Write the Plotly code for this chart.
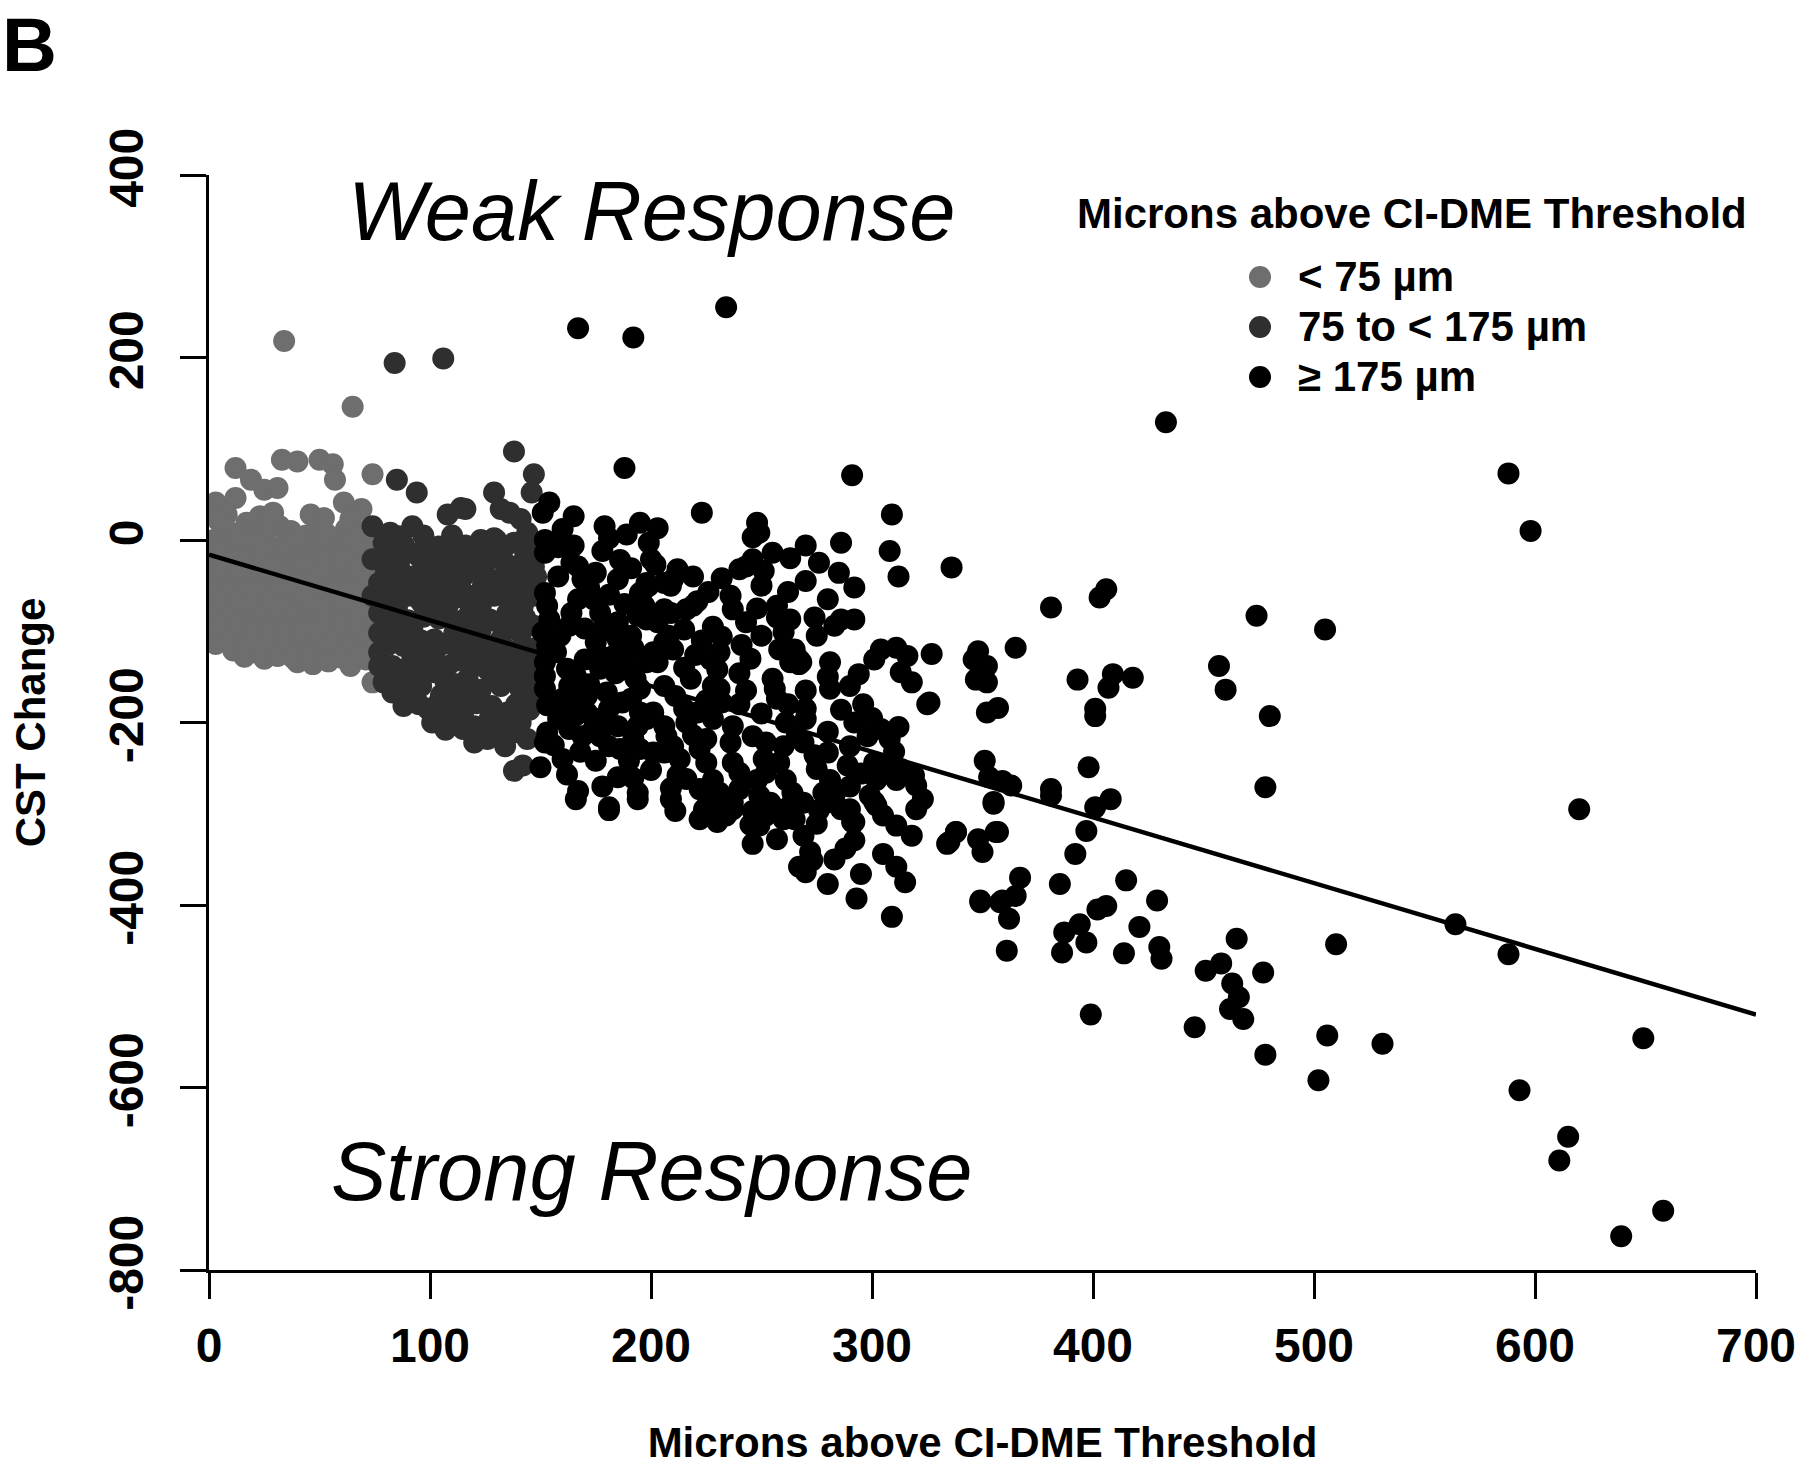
import plotly.graph_objects as go

# ---------------- data ----------------
# Microns above CI-DME threshold (x) vs CST change (y), three groups
gray_pts = [  # < 75 um
    (34, 218), (65, 146), (12, 79), (19, 66), (25, 55), (31, 57), (33, 88), (40, 86), (50, 88),
    (56, 83), (57, 66), (74, 72), (3, 41), (12, 46), (46, 28), (61, 41), (69, 34), (64, 23),
    (23, 26), (17, 19), (32, 15), (28, 19), (37, 10), (6, 15), (2, 0), (44, 5), (46, -5),
    (55, -14), (62, 12), (67, 5), (0, 30), (8, 28), (10, 8), (18, 5), (26, 10), (35, -1),
    (50, 14), (58, 2), (72, 12), (71, -14),
    (1, -8), (8, -5), (15, -10), (22, -4), (30, -9), (38, -6), (53, -3), (60, -9), (70, -6),
    (4, -22), (11, -25), (19, -20), (26, -24), (33, -21), (41, -26), (48, -19), (57, -23),
    (65, -27), (73, -20),
    (2, -36), (9, -38), (16, -33), (24, -39), (31, -35), (39, -37), (46, -32), (54, -40),
    (62, -34), (70, -38), (76, -42),
    (5, -50), (13, -53), (20, -48), (28, -52), (35, -49), (43, -55), (51, -47), (59, -51),
    (67, -54), (74, -49),
    (1, -64), (8, -61), (16, -66), (23, -62), (31, -67), (38, -60), (47, -65), (55, -63),
    (63, -68), (71, -62),
    (4, -78), (12, -75), (19, -80), (27, -77), (34, -82), (42, -76), (50, -79), (58, -74),
    (66, -81), (74, -77),
    (2, -93), (9, -90), (17, -95), (25, -91), (32, -96), (40, -89), (48, -94), (56, -92),
    (64, -97), (72, -90),
    (7, -107), (14, -104), (22, -109), (30, -105), (37, -110), (45, -103), (53, -108),
    (61, -106), (69, -111),
    (11, -121), (20, -123), (35, -120), (42, -125), (50, -119), (58, -124), (66, -118),
    (73, -122), (40, -134), (47, -136), (54, -133), (64, -138), (71, -131), (15, -116),
    (28, -118), (74, -156),
    (5, -15), (12, -13), (26, -16), (34, -14), (42, -12), (50, -17), (64, -15), (76, -12),
    (1, -29), (7, -31), (15, -27), (22, -30), (30, -28), (37, -32), (44, -26), (52, -30),
    (60, -29), (68, -31), (6, -43), (12, -45), (20, -42), (27, -44), (35, -41), (42, -46),
    (50, -40), (58, -44), (66, -42), (73, -45), (2, -57), (9, -56), (17, -58), (24, -55),
    (32, -59), (39, -54), (47, -57), (55, -56), (63, -58), (70, -55), (77, -58),
    (5, -71), (12, -69), (20, -72), (27, -70), (35, -73), (43, -68), (51, -72), (59, -70),
    (67, -73), (75, -69), (1, -86), (8, -84), (15, -87), (23, -85), (30, -88), (38, -83),
    (45, -87), (53, -85), (61, -88), (69, -84), (76, -86), (4, -100), (12, -98), (20, -101),
    (28, -99), (35, -102), (43, -97), (51, -101), (59, -99), (67, -102), (74, -98),
    (3, -114), (10, -112), (18, -115), (26, -113), (33, -116), (41, -111), (49, -114),
    (57, -112), (64, -115), (72, -111), (16, -128), (25, -130), (31, -127), (38, -129),
    (45, -126), (60, -129), (69, -127), (14, 3), (21, -1), (40, 2), (53, 7), (66, -2),
    (4, 22), (29, 30), (52, 24), (60, -20),
]

dark_pts = [  # 75 to < 175 um
    (84, 194), (106, 199), (138, 97), (147, 72), (146, 52), (129, 52), (85, 66), (94, 52),
    (114, 35), (108, 28), (136, 30), (141, 23), (74, 15), (82, 8), (92, 15), (97, 5),
    (110, 5), (123, 0), (130, 0), (127, -21), (133, -10), (144, 8), (147, -7), (110, -14),
    (116, 34), (132, 34), (129, 2),
    (74, -21), (82, -18), (86, -29), (92, -40), (90, -51), (77, -47), (74, -61), (97, -29),
    (102, -43), (108, -51), (115, -40), (118, -61), (127, -43), (132, -51), (138, -54),
    (144, -43), (147, -61), (142, -72), (135, -80), (129, -61), (123, -72), (118, -80),
    (108, -72), (102, -65), (92, -61), (85, -76), (77, -80),
    (91, -14), (102, -14), (118, -21), (138, -29), (147, -29), (108, -29),
    (77, -102), (85, -109), (92, -98), (102, -109), (111, -102), (123, -98), (132, -109),
    (141, -102), (147, -94), (77, -123), (83, -138), (92, -127), (102, -123), (108, -138),
    (115, -127), (123, -123), (130, -134), (138, -127), (145, -131), (148, -145),
    (83, -167), (92, -174), (99, -185), (108, -196), (115, -189), (120, -204), (127, -196),
    (135, -189), (141, -200), (144, -218), (138, -211), (130, -211), (123, -215), (115, -207),
    (111, -167), (123, -164), (132, -160), (141, -164), (147, -174),
    (80, -145), (86, -152), (102, -145), (117, -152), (92, -152), (105, -170),
    (142, -247), (138, -253),
    (88, -5), (98, -4), (104, -7), (116, -6), (138, -3), (79, -3), (86, 4),
    (78, -20), (95, -18), (124, -14), (133, -22), (143, -19), (104, -22), (113, -25),
    (80, -35), (87, -38), (103, -33), (110, -36), (121, -32), (134, -37), (140, -31),
    (148, -40), (84, -50), (98, -52), (114, -54), (124, -49), (143, -55),
    (80, -66), (87, -64), (96, -68), (112, -63), (136, -67), (141, -62), (124, -58),
    (82, -86), (90, -88), (97, -84), (104, -86), (113, -89), (127, -87), (131, -90),
    (143, -85), (120, -92), (86, -96), (115, -97), (136, -96), (96, -110),
    (81, -115), (88, -116), (97, -118), (106, -114), (113, -117), (120, -113), (127, -116),
    (134, -119), (142, -115), (148, -118), (77, -138), (90, -140), (97, -137), (102, -141),
    (120, -138), (126, -142), (137, -140), (143, -146), (112, -132), (79, -156), (107, -155),
    (112, -158), (129, -153), (136, -152), (145, -158), (96, -160), (88, -165),
    (88, -182), (95, -180), (104, -178), (110, -184), (121, -179), (128, -182), (139, -180),
    (145, -186), (116, -172), (101, -200), (113, -199), (133, -203), (107, -208),
    (126, -218), (134, -226), (120, -222),
]

black_pts = [  # >= 175 um
    (167, 232), (192, 222), (234, 255), (433, 129), (588, 73), (598, 10), (620, -295),
    (505, -98), (474, -83), (457, -138), (460, -164), (480, -193), (478, -271), (564, -421),
    (588, -454), (510, -443), (465, -437), (477, -474), (451, -472), (458, -464), (463, -486),
    (466, -501), (462, -514), (468, -525), (446, -534), (478, -564), (506, -543), (531, -552),
    (502, -592), (649, -546), (593, -603), (615, -654), (611, -680), (639, -763), (658, -735),
    (399, -520), (429, -395),
    (336, -30), (381, -74), (403, -63), (406, -54), (348, -122), (346, -131), (352, -138),
    (347, -153), (352, -156), (365, -118), (393, -153), (409, -147), (407, -162), (418, -151),
    (401, -185), (401, -193), (352, -189), (357, -184),
    (351, -242), (353, -260), (359, -264), (363, -269), (355, -287), (381, -273), (381, -280),
    (398, -249), (408, -284), (401, -293), (338, -320), (335, -331), (348, -328), (350, -342),
    (357, -320), (397, -319), (392, -344), (367, -370), (365, -390), (359, -395), (349, -395),
    (362, -415), (361, -450), (385, -377), (387, -430), (394, -421), (397, -441), (386, -452),
    (402, -405), (406, -401), (415, -373), (421, -424), (414, -453), (430, -446), (431, -459),
    (188, 79), (291, 71), (223, 30), (309, 28), (165, 26), (179, 15), (195, 19), (203, 13),
    (248, 19), (249, 8), (246, 3), (286, -3), (308, -12), (312, -40),
    (154, 41), (151, 30), (152, 0), (152, -14), (178, -12), (199, -3), (200, -21), (202, -27),
    (212, -32), (210, -43), (185, -43), (175, -36), (164, -25), (167, -29), (197, -54),
    (198, -47), (206, -47), (209, -50), (236, -61), (237, -76), (240, -32), (243, -29),
    (251, -34), (246, -21), (255, -14), (276, -25), (285, -36), (292, -52), (280, -65),
    (274, -85), (286, -87), (292, -87), (283, -94), (257, -72), (263, -87), (257, -85),
    (260, -101), (258, -120), (263, -134), (268, -134), (311, -118), (316, -127), (313, -145),
    (318, -156), (304, -120), (301, -131), (327, -125), (294, -147), (296, -180), (325, -180),
    (281, -163), (281, -134), (275, -105), (267, -131), (267, -136), (255, -152), (256, -163),
    (257, -174), (243, -165), (228, -160), (231, -163), (218, -152), (231, -123), (227, -131),
    (221, -67), (219, -72), (216, -76), (209, -80), (206, -76), (199, -50), (195, -58),
    (197, -72), (194, -83), (198, -87), (203, -90), (208, -105), (206, -112), (210, -120),
    (201, -123), (198, -134), (203, -134), (185, -90), (185, -109), (191, -105), (189, -123),
    (183, -127), (190, -138), (193, -152), (195, -163), (174, -65), (177, -80), (179, -94),
    (175, -112), (177, -127), (177, -141), (169, -43), (167, -65), (164, -80), (163, -94),
    (159, -105), (157, -123), (162, -141), (166, -149), (163, -160), (160, -174), (166, -174),
    (171, -171), (152, -58), (153, -72), (154, -87), (151, -101), (153, -116), (152, -134),
    (152, -149), (152, -163), (153, -181), (158, -196), (153, -211), (152, -222), (156, -225),
    (162, -189), (166, -192), (171, -189), (163, -207), (169, -215), (174, -207),
    (181, -185), (180, -200), (185, -204), (177, -215), (181, -226), (186, -229),
    (191, -174), (195, -189), (194, -204), (198, -196), (201, -189), (206, -204), (207, -215),
    (192, -218), (195, -229), (201, -233), (206, -233), (213, -240), (212, -258), (209, -272),
    (215, -185), (221, -189), (216, -200), (228, -196), (225, -218), (222, -229), (225, -244),
    (228, -263), (222, -273), (231, -277), (237, -204), (236, -222), (237, -244), (240, -255),
    (240, -273), (237, -288), (234, -302), (228, -298), (224, -295), (222, -306), (230, -309),
    (246, -215), (252, -222), (251, -240), (252, -255), (248, -263), (249, -280), (254, -288),
    (257, -295), (249, -298), (260, -226), (258, -244), (261, -263), (264, -277), (263, -291),
    (269, -288), (260, -306), (270, -185), (270, -196), (269, -222), (274, -236), (275, -251),
    (278, -277), (281, -263), (283, -280), (286, -295), (290, -295), (292, -309),
    (304, -207), (308, -218), (301, -244), (307, -247), (313, -251), (311, -263), (302, -263),
    (319, -258), (320, -269), (323, -284), (299, -280), (302, -291), (326, -178), (289, -247),
    (280, -233), (150, -249),
    (181, -296), (211, -297), (234, -297), (237, -295), (246, -297), (252, -302), (260, -298),
    (249, -313), (257, -328), (246, -333), (269, -324), (275, -311), (272, -342), (273, -351),
    (267, -358), (270, -364), (281, -287), (291, -309), (292, -329), (288, -338), (283, -350),
    (295, -366), (280, -377), (293, -393), (301, -287), (305, -302), (311, -313), (318, -324),
    (320, -295), (311, -358), (315, -375), (309, -413), (334, -333), (338, -320), (355, -289),
    (356, -320), (349, -397), (358, -397), (166, -284), (194, -284), (209, -284),
    (167, -275), (192, -261), (194, -277), (181, -293), (305, -344),
    (158, -40), (172, -52), (181, -60), (188, -70), (170, -97), (182, -100), (192, -118),
    (170, -131), (184, -146), (172, -158), (180, -167), (187, -178), (175, -196), (168, -232),
    (175, -242), (190, -242), (200, -252), (185, -260), (178, -270), (160, -240), (162, -257),
    (206, -160), (211, -171), (215, -140), (220, -126), (223, -110), (215, -98), (228, -95),
    (232, -106), (241, -115), (245, -130), (240, -146), (250, -190), (240, -180), (232, -178),
    (261, -200), (266, -214), (280, -210), (290, -226), (286, -186), (292, -200), (298, -215),
    (310, -232), (295, -256), (290, -270), (276, -296), (265, -306), (245, -312), (226, -286),
    (216, -262), (210, -226), (219, -214), (225, -176), (230, -142), (250, -50), (262, -57),
    (270, -45), (226, -57), (232, -42), (186, -22), (191, -31), (181, 2), (165, -6), (189, 6),
    (263, -20), (270, -6), (158, -8), (160, 12), (219, -40), (243, -90), (250, -105),
    (248, -75), (265, -120), (280, -150), (290, -160), (300, -195), (312, -205), (270, -165),
    (262, -180),
]

# fitted regression line, endpoints
fit_x = [0, 700]
fit_y = [-16, -520]

x_ticks = [0, 100, 200, 300, 400, 500, 600, 700]
y_ticks = [-800, -600, -400, -200, 0, 200, 400]

groups = [
    ("< 75 µm", gray_pts, "rgb(110,110,110)"),
    ("75 to < 175 µm", dark_pts, "rgb(47,47,47)"),
    ("≥ 175 µm", black_pts, "rgb(0,0,0)"),
]

# ---------------- layout geometry (pixels) ----------------
W, H = 1800, 1466
PL, PR, PT, PB = 209, 1756, 175, 1270
FONT = "Liberation Sans, Arial, Helvetica, sans-serif"
MSIZE = 22


def px_x(p):
    return (p - PL) / (PR - PL)


def px_y(p):
    return (PB - p) / (PB - PT)


fig = go.Figure()
for name, pts, col in groups:
    fig.add_trace(go.Scatter(
        x=[p[0] for p in pts], y=[p[1] for p in pts], mode="markers", name=name,
        marker=dict(size=MSIZE, color=col, line=dict(width=0)),
        showlegend=False, cliponaxis=True,
    ))

fig.add_trace(go.Scatter(x=fit_x, y=fit_y, mode="lines", line=dict(color="black", width=4.5),
                         showlegend=False))

axis_common = dict(
    showline=True, linecolor="black", linewidth=3, ticks="outside", ticklen=26, tickwidth=3,
    tickcolor="black", showgrid=False, zeroline=False, automargin=False,
    tickfont=dict(family=FONT, size=48, color="black", weight="bold"),
)

fig.update_xaxes(range=[0, 700], tickvals=x_ticks, ticktext=[str(v) for v in x_ticks],
                 title=dict(text="Microns above CI-DME Threshold", standoff=74,
                            font=dict(family=FONT, size=42, color="black", weight="bold")),
                 ticklabelstandoff=5, **axis_common)
fig.update_yaxes(range=[-800, 400], tickvals=y_ticks, ticktext=[str(v) for v in y_ticks],
                 tickangle=-90,
                 title=dict(text="CST Change", standoff=42,
                            font=dict(family=FONT, size=42, color="black", weight="bold")),
                 ticklabelstandoff=18, **axis_common)

annotations = [
    dict(text="B", xref="paper", yref="paper", x=px_x(0), y=px_y(0), xanchor="left",
         yanchor="top", showarrow=False,
         font=dict(family=FONT, size=76, color="black", weight="bold")),
    dict(text="Weak Response", xref="x", yref="y", x=200, y=360, xanchor="center",
         yanchor="middle", showarrow=False,
         font=dict(family=FONT, size=83, color="black", style="italic")),
    dict(text="Strong Response", xref="x", yref="y", x=200, y=-692, xanchor="center",
         yanchor="middle", showarrow=False,
         font=dict(family=FONT, size=83, color="black", style="italic")),
    dict(text="Microns above CI-DME Threshold", xref="paper", yref="paper", x=px_x(1412),
         y=px_y(213), xanchor="center", yanchor="middle", showarrow=False,
         font=dict(family=FONT, size=42, color="black", weight="bold")),
]
shapes = []
legend_rows = [277, 327, 377]
for (name, pts, col), ry in zip(groups, legend_rows):
    annotations.append(dict(text=name, xref="paper", yref="paper", x=px_x(1296), y=px_y(ry),
                            xanchor="left", yanchor="middle", showarrow=False,
                            font=dict(family=FONT, size=42, color="black", weight="bold")))
    shapes.append(dict(type="circle", xref="paper", yref="paper", xsizemode="pixel",
                       ysizemode="pixel", xanchor=px_x(1260), yanchor=px_y(ry),
                       x0=-MSIZE / 2, x1=MSIZE / 2, y0=-MSIZE / 2, y1=MSIZE / 2,
                       fillcolor=col, line=dict(width=0)))

fig.update_layout(
    width=W, height=H, paper_bgcolor="white", plot_bgcolor="white",
    margin=dict(l=PL, r=W - PR, t=PT, b=H - PB, autoexpand=False),
    font=dict(family=FONT, color="black"),
    showlegend=False, annotations=annotations, shapes=shapes,
)

fig.write_html("out.html", config={"displayModeBar": False},
               post_script="document.body.style.margin='0px';document.body.style.padding='0px';")
